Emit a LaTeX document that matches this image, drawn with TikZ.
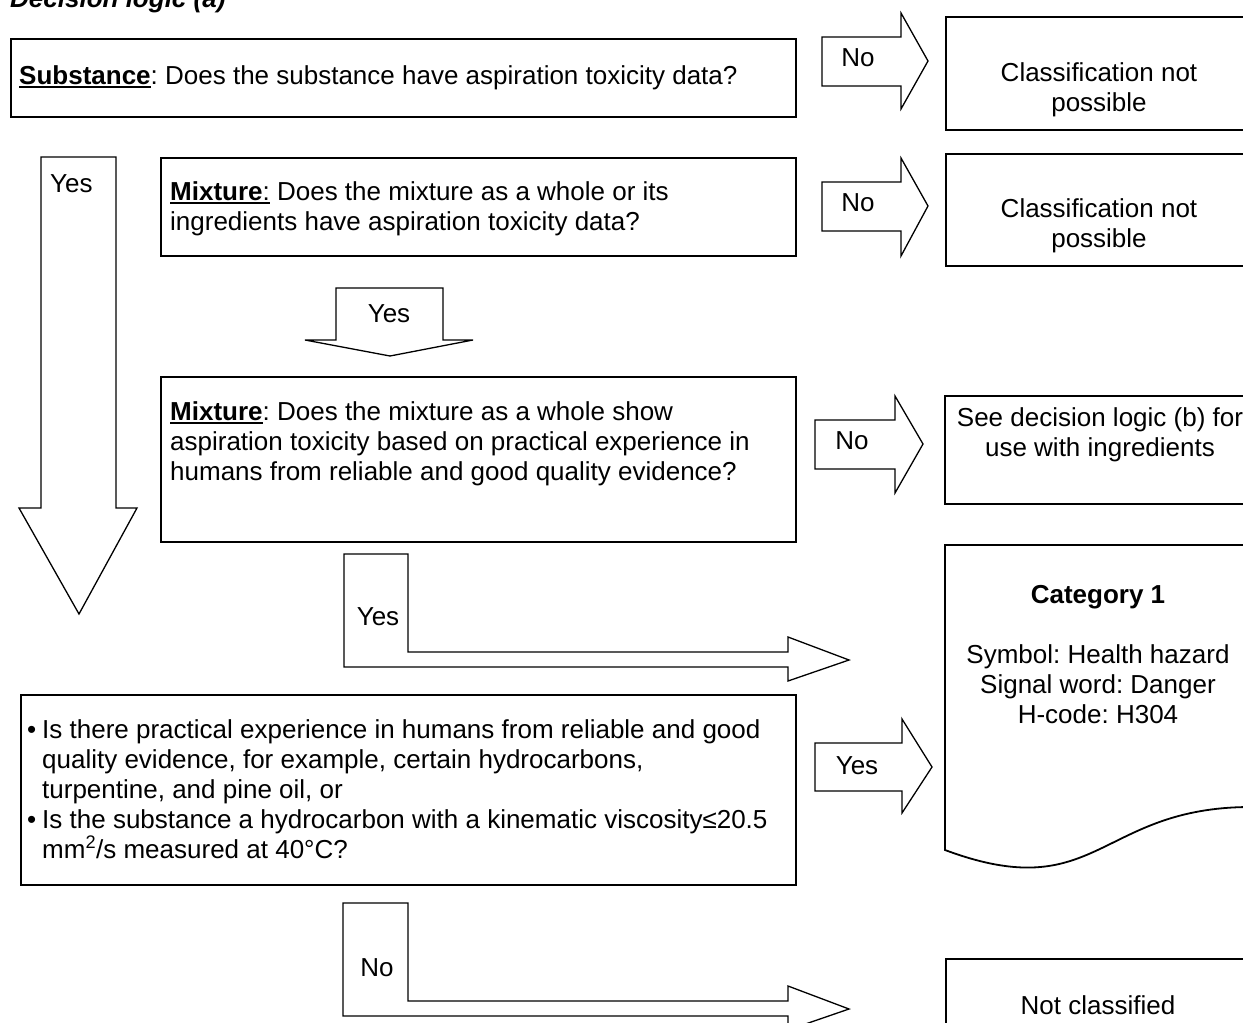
\documentclass[tikz,border=0pt]{standalone}
\usepackage{fontspec}
\setmainfont{Liberation Sans}
\frenchspacing
\newsavebox\ulbox
\newcommand\myul[1]{\sbox\ulbox{#1}\leavevmode\rlap{\rule[-4pt]{\wd\ulbox}{2pt}}\usebox\ulbox}
\begin{document}
\begin{tikzpicture}[x=1pt,y=-1pt,
  font=\fontsize{26}{30}\selectfont,
  box/.style={draw, line width=1.8pt, inner sep=0pt, anchor=north west},
  blockarrow/.style={draw, line width=1.3pt, line join=miter},
  txt/.style={inner sep=0pt, anchor=base west},
  ctxt/.style={inner sep=0pt, anchor=base}]
\useasboundingbox (0,0) rectangle (1243,1023);
\clip (0,0) rectangle (1243,1023);

% title
\node[txt] (title) at (10,7) {\textbf{\textit{Decision logic (a)}}};

% left column boxes
\node[box, minimum width=785pt, minimum height=78pt] (subst) at (10,38) {};
\node[txt] (substT) at (19,84) {\myul{\textbf{Substance}}: Does the substance have aspiration toxicity data?};

\node[box, minimum width=635pt, minimum height=98pt] (mixA) at (160,157) {};
\node[txt] (mixA1) at (170,200) {\myul{\textbf{Mixture}:} Does the mixture as a whole or its};
\node[txt] (mixA2) at (170,230) {ingredients have aspiration toxicity data?};

\node[box, minimum width=635pt, minimum height=165pt] (mixB) at (160,376) {};
\node[txt] (mixB1) at (170,420) {\myul{\textbf{Mixture}}: Does the mixture as a whole show};
\node[txt] (mixB2) at (170,450) {aspiration toxicity based on practical experience in};
\node[txt] (mixB3) at (170,480) {humans from reliable and good quality evidence?};

\node[box, minimum width=775pt, minimum height=190pt] (bul) at (20,694) {};
\node[txt] (bulA1) at (27,738) {\makebox[15pt][l]{\textbullet}Is there practical experience in humans from reliable and good};
\node[txt] (bulA2) at (42,768) {quality evidence, for example, certain hydrocarbons,};
\node[txt] (bulA3) at (42,798) {turpentine, and pine oil, or};
\node[txt] (bulB1) at (27,828) {\makebox[15pt][l]{\textbullet}Is the substance a hydrocarbon with a kinematic viscosity≤20.5};
\node[txt] (bulB2) at (42,858) {mm\textsuperscript{2}/s measured at 40°C?};

% right column boxes
\node[box, minimum width=306pt, minimum height=113pt] (cnpA) at (945,16) {};
\node[ctxt] (cnpA1) at (1099,81) {Classification not};
\node[ctxt] (cnpA2) at (1099,111) {possible};

\node[box, minimum width=306pt, minimum height=112pt] (cnpB) at (945,153) {};
\node[ctxt] (cnpB1) at (1099,217) {Classification not};
\node[ctxt] (cnpB2) at (1099,247) {possible};

\node[box, minimum width=307pt, minimum height=108pt] (seeb) at (944,395) {};
\node[ctxt] (seeb1) at (1100,426) {See decision logic (b) for};
\node[ctxt] (seeb2) at (1100,456) {use with ingredients};

\draw[line width=1.8pt, line join=miter] (945,850) -- (945,545) -- (1251,545) -- (1251,807)
  .. controls (1098,807) and (1098,907) .. (945,850) -- cycle;
\node[ctxt] (cat1) at (1098,603) {\textbf{Category 1}};
\node[ctxt] (cat2) at (1098,663) {Symbol: Health hazard};
\node[ctxt] (cat3) at (1098,693) {Signal word: Danger};
\node[ctxt] (cat4) at (1098,723) {H-code: H304};

\node[box, minimum width=306pt, minimum height=120pt] (notc) at (945,958) {};
\node[ctxt] (notcT) at (1098,1014) {Not classified};

% block arrows
\draw[blockarrow] (822,37) -- (901,37) -- (901,13) -- (928,61) -- (901,109) -- (901,86) -- (822,86) -- cycle;
\node[ctxt] (noA) at (858,66) {No};

\draw[blockarrow] (822,182) -- (901,182) -- (901,158) -- (928,206) -- (901,256) -- (901,231) -- (822,231) -- cycle;
\node[ctxt] (noB) at (858,211) {No};

\draw[blockarrow] (815,420) -- (895,420) -- (895,396) -- (923,444) -- (895,493) -- (895,469) -- (815,469) -- cycle;
\node[ctxt] (noC) at (852,449) {No};

\draw[blockarrow] (815,743) -- (902,743) -- (902,719) -- (932,767) -- (902,813) -- (902,791) -- (815,791) -- cycle;
\node[ctxt] (yesD) at (857,774) {Yes};

\draw[blockarrow] (41,157) -- (116,157) -- (116,508) -- (137,508) -- (79,614) -- (19,508) -- (41,508) -- cycle;
\node[txt] (yesBig) at (50,192) {Yes};

\draw[blockarrow] (336,288) -- (443,288) -- (443,340) -- (473,340) -- (390,356) -- (305,340) -- (336,340) -- cycle;
\node[ctxt] (yesSmall) at (389,322) {Yes};

\draw[blockarrow] (344,554) -- (408,554) -- (408,652) -- (788,652) -- (788,637) -- (849,660) -- (788,681) -- (788,667) -- (344,667) -- cycle;
\node[ctxt] (yesL) at (378,625) {Yes};

\draw[blockarrow] (343,903) -- (408,903) -- (408,1001) -- (788,1001) -- (788,986) -- (849,1009) -- (788,1030) -- (788,1016) -- (343,1016) -- cycle;
\node[ctxt] (noL) at (377,976) {No};
\end{tikzpicture}
\end{document}
